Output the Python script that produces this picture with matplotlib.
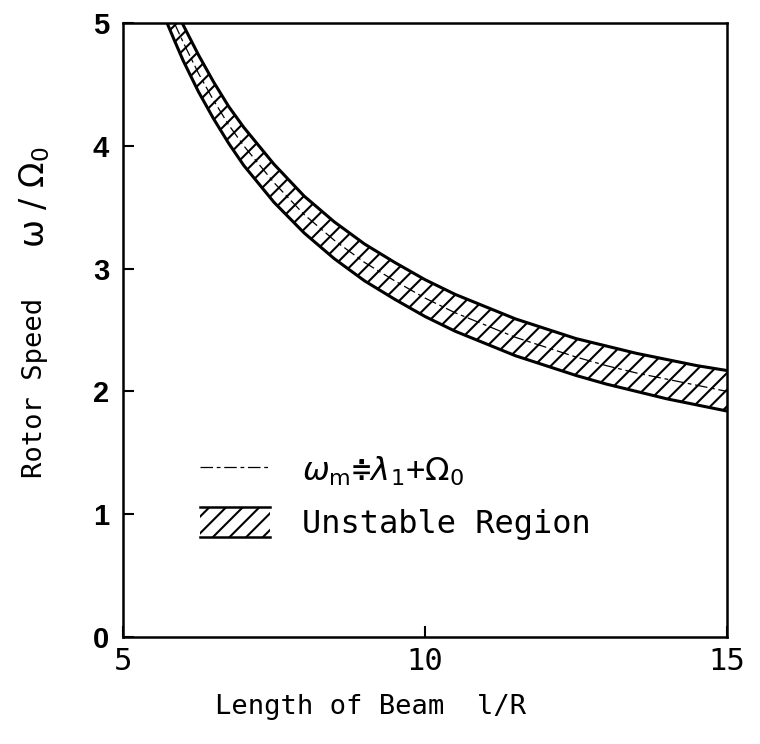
import matplotlib
matplotlib.use("Agg")
import matplotlib.pyplot as plt
import numpy as np
from matplotlib.lines import Line2D
from matplotlib.patches import Patch, Rectangle
from matplotlib.legend_handler import HandlerBase

# ---- data ----
x_upper = [5.98, 6.25, 6.5, 6.75, 7.0, 7.5, 8.0, 8.5, 9.0, 9.5, 10.0, 10.5, 11.0, 11.5,
           12.0, 12.5, 13.0, 13.5, 14.0, 14.5, 15.0]
y_upper = [5.00, 4.74, 4.52, 4.32, 4.15, 3.85, 3.59, 3.38, 3.20, 3.05, 2.91, 2.79, 2.69, 2.59,
           2.51, 2.43, 2.37, 2.31, 2.26, 2.21, 2.17]

x_lower = [5.73, 5.85, 6.0, 6.25, 6.5, 6.75, 7.0, 7.5, 8.0, 8.5, 9.0, 9.5, 10.0, 10.5, 11.0,
           11.5, 12.0, 12.5, 13.0, 13.5, 14.0, 14.5, 15.0]
y_lower = [5.00, 4.86, 4.69, 4.44, 4.22, 4.02, 3.84, 3.54, 3.29, 3.08, 2.90, 2.75, 2.61, 2.49,
           2.39, 2.29, 2.21, 2.13, 2.06, 2.00, 1.94, 1.89, 1.84]

x_mid = [5.85, 6.0, 6.25, 6.5, 6.75, 7.0, 7.5, 8.0, 8.5, 9.0, 9.5, 10.0, 10.5, 11.0,
         11.5, 12.0, 12.5, 13.0, 13.5, 14.0, 14.5, 15.0]
y_mid = [5.00, 4.84, 4.59, 4.37, 4.17, 4.00, 3.70, 3.44, 3.23, 3.05, 2.90, 2.76, 2.64, 2.54,
         2.44, 2.36, 2.28, 2.21, 2.15, 2.10, 2.05, 2.00]

x_ticks = [5, 10, 15]
y_ticks = [0, 1, 2, 3, 4, 5]
x_label = "Length of Beam  l/R"
y_label_words = "Rotor Speed"
y_label_symbol = "ω / Ω$_0$"
legend_line = "$\\omega_{\\rm m}$≑$\\lambda$$_1$+$\\Omega_0$"
legend_region = "Unstable Region"

plt.rcParams["hatch.linewidth"] = 1.5
plt.rcParams["mathtext.fontset"] = "dejavusans"
mono = ["DejaVu Sans Mono", "DejaVu Sans"]
tickfont = ["Liberation Sans", "DejaVu Sans"]


class HatchBand(HandlerBase):
    def create_artists(self, legend, orig_handle, xdescent, ydescent, width, height,
                       fontsize, trans):
        x0, y0 = -xdescent, -ydescent
        r = Rectangle((x0, y0), width, height, facecolor="white", edgecolor="black",
                      hatch="//", lw=0, transform=trans)
        top = Line2D([x0, x0 + width], [y0 + height, y0 + height], color="black",
                     lw=1.8, transform=trans)
        bot = Line2D([x0, x0 + width], [y0, y0], color="black", lw=1.8, transform=trans)
        return [r, top, bot]


fig = plt.figure(figsize=(7.6, 7.44), dpi=100)
ax = fig.add_axes([0.1618, 0.1438, 0.7948, 0.8253])

# band polygon
poly_x = np.concatenate([np.array(x_upper), np.array(x_lower)[::-1]])
poly_y = np.concatenate([np.array(y_upper), np.array(y_lower)[::-1]])
ax.fill(poly_x, poly_y, facecolor="white", edgecolor="black", hatch="//", linewidth=0)
ax.plot(x_upper, y_upper, color="black", lw=2.2, solid_capstyle="butt")
ax.plot(x_lower, y_lower, color="black", lw=2.2, solid_capstyle="butt")
ax.plot(x_mid, y_mid, color="black", lw=0.9, dashes=(10, 3, 3, 3))

ax.set_xlim(5, 15)
ax.set_ylim(0, 5)
ax.set_xticks(x_ticks)
ax.set_yticks(y_ticks)
ax.set_xticklabels([str(t) for t in x_ticks], family=mono, fontsize=22)
ax.set_yticklabels([str(t) for t in y_ticks], family=tickfont, fontsize=21, fontweight="bold")
ax.tick_params(direction="in", length=8, width=1.5)
ax.tick_params(axis="x", pad=7)
ax.tick_params(axis="y", pad=10)
for s in ax.spines.values():
    s.set_linewidth(1.8)

ax.set_xlabel(x_label, family=mono, fontsize=19.5)
ax.xaxis.set_label_coords(0.41, -0.092)

# y label in two parts (words + larger symbols)
ax.text(-0.146, 0.405, y_label_words, transform=ax.transAxes, rotation=90,
        ha="center", va="center", family=mono, fontsize=19.5)
ax.text(-0.146, 0.717, y_label_symbol, transform=ax.transAxes, rotation=90,
        ha="center", va="center", fontsize=24)

handles = [
    Line2D([], [], color="black", lw=0.9, dashes=(10, 3, 3, 3)),
    Patch(facecolor="white"),
]
leg = ax.legend(handles, [legend_line, legend_region], loc="upper left",
                bbox_to_anchor=(0.1275, 0.298), frameon=False, borderpad=0,
                borderaxespad=0, prop={"family": mono, "size": 23},
                handlelength=2.2, handleheight=1.1, handletextpad=1.0,
                labelspacing=0.6, handler_map={Patch: HatchBand()})

fig.savefig("out.png", dpi=100)
